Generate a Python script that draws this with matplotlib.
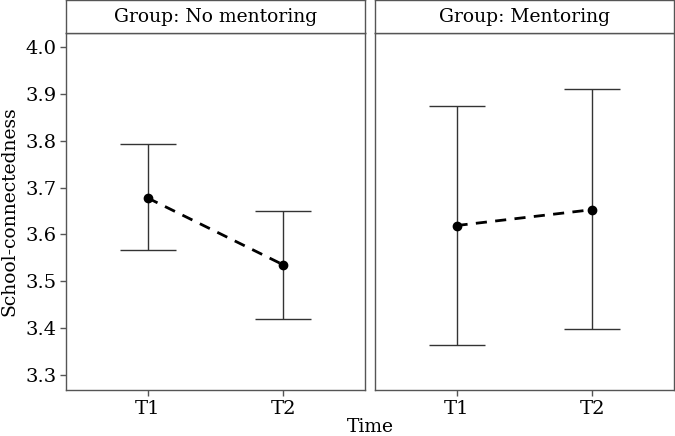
import matplotlib.pyplot as plt

# values
groups = ["No mentoring", "Mentoring"]
times = ["T1", "T2"]
means = {"No mentoring": [3.678, 3.535], "Mentoring": [3.619, 3.653]}
lower = {"No mentoring": [3.566, 3.420], "Mentoring": [3.364, 3.398]}
upper = {"No mentoring": [3.793, 3.650], "Mentoring": [3.875, 3.910]}
yticks = [3.3, 3.4, 3.5, 3.6, 3.7, 3.8, 3.9, 4.0]

plt.rcParams['font.family'] = ['DejaVu Serif']
W, H = 675, 436
fig = plt.figure(figsize=(W / 100, H / 100), dpi=100)

frame_col = '#555555'
panel_x = [66, 375]
panel_w = 299
bottom, top = 390, 33

for i, g in enumerate(groups):
    ax = fig.add_axes([panel_x[i] / W, 1 - bottom / H, panel_w / W, (bottom - top) / H])
    x = [1, 2]
    m = means[g]
    lo = lower[g]
    hi = upper[g]
    err = [[mm - l for mm, l in zip(m, lo)], [h - mm for mm, h in zip(m, hi)]]
    ax.errorbar(x, m, yerr=err, fmt='none', ecolor='#333333', elinewidth=1,
                capsize=20, capthick=1)
    ax.plot(x, m, color='black', linestyle=(0, (4, 3)), linewidth=2,
            marker='o', markersize=6)
    ax.set_xlim(0.4, 2.6)
    ax.set_ylim(3.268, 4.03)
    ax.set_xticks(x)
    ax.set_xticklabels(times, fontsize=14)
    ax.set_yticks(yticks)
    if i == 0:
        ax.set_yticklabels([f"{v:.1f}" for v in yticks], fontsize=14)
        ax.set_ylabel("School-connectedness", fontsize=13.5, labelpad=5)
    else:
        ax.tick_params(axis='y', left=False, labelleft=False)
    ax.tick_params(axis='both', direction='out', length=4, color=frame_col, width=1, pad=3)
    for s in ax.spines.values():
        s.set_color(frame_col)
        s.set_linewidth(1)

    # facet strip
    sax = fig.add_axes([panel_x[i] / W, 1 - top / H, panel_w / W, top / H])
    sax.set_xticks([])
    sax.set_yticks([])
    for s in sax.spines.values():
        s.set_color(frame_col)
        s.set_linewidth(1)
    sax.text(0.5, 0.48, f"Group: {g}", ha='center', va='center', fontsize=13.5,
             transform=sax.transAxes)

fig.text(370 / W, 1 - 427 / H, "Time", ha='center', va='center', fontsize=13.5)

fig.savefig("out.png", dpi=100)
